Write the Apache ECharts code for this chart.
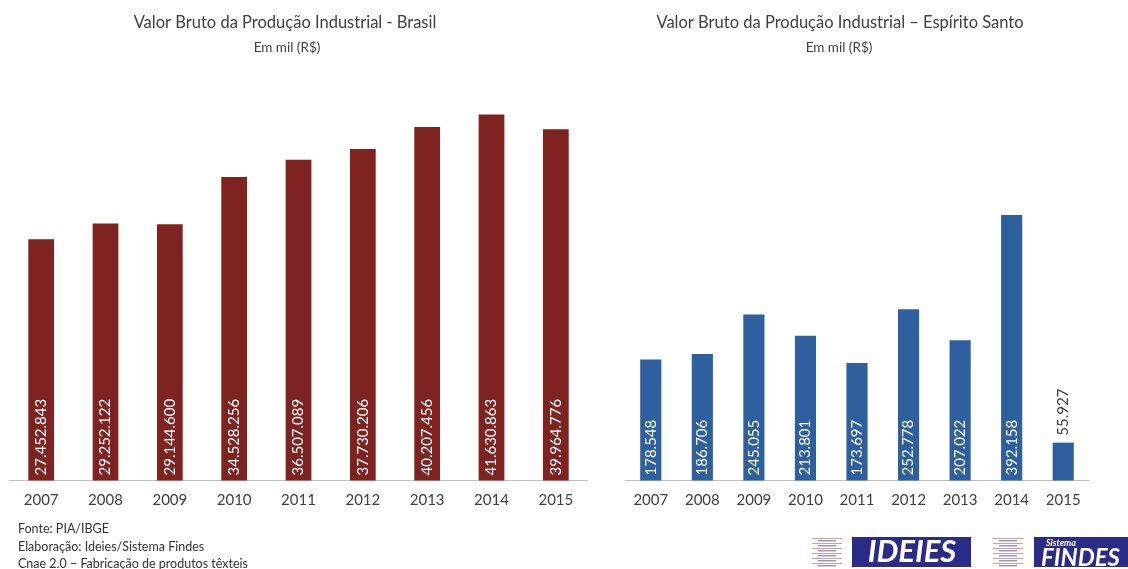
<!DOCTYPE html>
<html>
<head>
<meta charset="utf-8">
<script src="https://cdn.jsdelivr.net/npm/echarts@6/dist/echarts.min.js"></script>
<style>
html,body{margin:0;padding:0;background:#fff;}
#chart{width:1128px;height:569px;}
</style>
</head>
<body>
<div id="chart"></div>
<script>
var categories = ['2007','2008','2009','2010','2011','2012','2013','2014','2015'];
var brasilValues = [27452843, 29252122, 29144600, 34528256, 36507089, 37730206, 40207456, 41630863, 39964776];
var esValues = [178548, 186706, 245055, 213801, 173697, 252778, 207022, 392158, 55927];
var titleBrasil = 'Valor Bruto da Produção Industrial - Brasil';
var titleES = 'Valor Bruto da Produção Industrial – Espírito Santo';
var subtitle = 'Em mil (R$)';
var footnotes = ['Fonte: PIA/IBGE', 'Elaboração: Ideies/Sistema Findes', 'Cnae 2.0 – Fabricação de produtos têxteis'];

var FONT = 'Lato, "Open Sans", sans-serif';
function fmt(v){ return String(v).replace(/\B(?=(\d{3})+(?!\d))/g, '.'); }

var insideLabel = {show:true, position:'insideBottom', rotate:90, align:'left', verticalAlign:'middle', distance:5,
  color:'#ffffff', fontSize:15, fontFamily:FONT, formatter:function(p){return fmt(p.value);}};
var topLabel = {show:true, position:'top', rotate:90, align:'left', verticalAlign:'middle', distance:7,
  color:'#404040', fontSize:15, fontFamily:FONT, formatter:function(p){return fmt(p.value);}};

function buildData(values, max, minFrac){
  return values.map(function(v){
    return v / max < minFrac ? {value:v, label:topLabel} : {value:v, label:insideLabel};
  });
}

var chart = echarts.init(document.getElementById('chart'), null, {renderer:'canvas'});

var xAxisCommon = {
  type:'category', data:categories,
  axisLine:{show:true, lineStyle:{color:'#c0c0c0', width:1}},
  axisTick:{show:false},
  axisLabel:{color:'#404040', fontSize:15, fontFamily:FONT, margin:12}
};
var yAxisCommon = {type:'value', show:false, splitLine:{show:false}};

var stripes = [];
function logoStripes(x0, y0){
  for (var i=0;i<6;i++){
    stripes.push({type:'rect', shape:{x:x0, y:y0+i*5, width:30, height:1}, style:{fill:'#d89a9a'}});
    stripes.push({type:'rect', shape:{x:x0+6, y:y0+i*5+2, width:18, height:1.5}, style:{fill:'#9a9ab8'}});
  }
}
logoStripes(812, 538);
logoStripes(993, 538);

var graphics = [
  {type:'text', left:18, top:522, style:{text:footnotes[0], fill:'#333', font:'12.5px ' + FONT}},
  {type:'text', left:18, top:540, style:{text:footnotes[1], fill:'#333', font:'12.5px ' + FONT}},
  {type:'text', left:18, top:557, style:{text:footnotes[2], fill:'#333', font:'12.5px ' + FONT}},
  {type:'rect', shape:{x:852, y:537, width:119, height:30}, style:{fill:'#2b2b88'}},
  {type:'text', x:912, y:552, style:{text:'IDEIES', fill:'#ffffff', font:'italic bold 31px ' + FONT, align:'center', verticalAlign:'middle'}},
  {type:'rect', shape:{x:1034, y:537, width:94, height:30}, style:{fill:'#2b2b88'}},
  {type:'text', x:1046, y:543, style:{text:'Sistema', fill:'#ffffff', font:'italic bold 9px ' + FONT, align:'left', verticalAlign:'middle'}},
  {type:'text', x:1041, y:558, style:{text:'FINDES', fill:'#ffffff', font:'italic bold 24px ' + FONT, align:'left', verticalAlign:'middle'}}
].concat(stripes);

chart.setOption({
  animation:false,
  backgroundColor:'#ffffff',
  title:[
    {text:titleBrasil, left:280, top:9, textAlign:'center', textStyle:{fontSize:16.5, fontWeight:'normal', color:'#404040', fontFamily:FONT}},
    {text:subtitle, left:282, top:36, textAlign:'center', textStyle:{fontSize:13.5, fontWeight:'normal', color:'#404040', fontFamily:FONT}},
    {text:titleES, left:835, top:9, textAlign:'center', textStyle:{fontSize:16.5, fontWeight:'normal', color:'#404040', fontFamily:FONT}},
    {text:subtitle, left:834, top:36, textAlign:'center', textStyle:{fontSize:13.5, fontWeight:'normal', color:'#404040', fontFamily:FONT}}
  ],
  grid:[
    {left:9, width:579, top:85, bottom:88.5},
    {left:625, width:464, top:142, bottom:88.5}
  ],
  xAxis:[
    Object.assign({gridIndex:0}, xAxisCommon),
    Object.assign({gridIndex:1}, xAxisCommon)
  ],
  yAxis:[
    Object.assign({gridIndex:0, min:0, max:45000000}, yAxisCommon),
    Object.assign({gridIndex:1, min:0, max:500000}, yAxisCommon)
  ],
  series:[
    {type:'bar', xAxisIndex:0, yAxisIndex:0, data:buildData(brasilValues, 45000000, 0.2), barWidth:'40%',
      itemStyle:{color:'#7e2320'}},
    {type:'bar', xAxisIndex:1, yAxisIndex:1, data:buildData(esValues, 500000, 0.2), barWidth:'41%',
      itemStyle:{color:'#2e5f9e'}}
  ],
  graphic:graphics
});
</script>
</body>
</html>
